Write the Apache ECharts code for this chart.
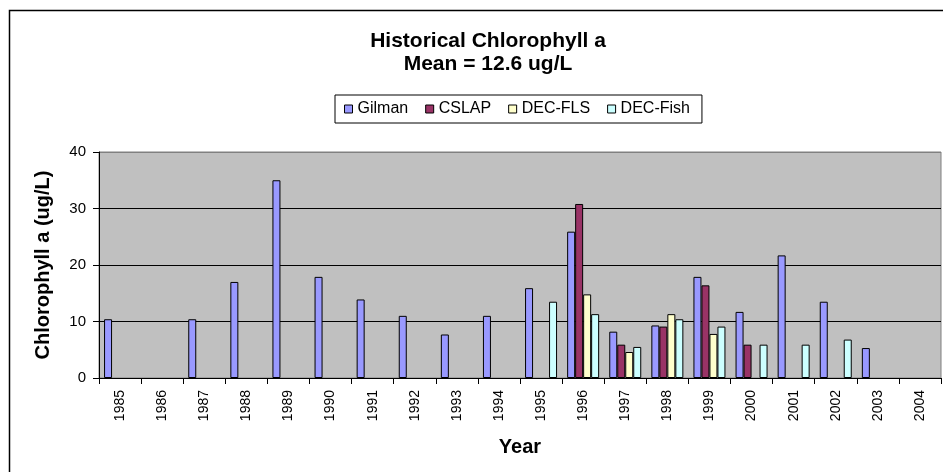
<!DOCTYPE html>
<html>
<head>
<meta charset="utf-8">
<script src="https://cdn.jsdelivr.net/npm/echarts@6/dist/echarts.min.js"></script>
<style>
  html, body { margin: 0; padding: 0; background: #fff; }
  #chart { width: 943px; height: 472px; }
</style>
</head>
<body>
<div id="chart"></div>
<script>
// years on the x axis
var years = ['1985', '1986', '1987', '1988', '1989', '1990', '1991', '1992', '1993', '1994',
  '1995', '1996', '1997', '1998', '1999', '2000', '2001', '2002', '2003', '2004'];

// chlorophyll a, ug/L (null = no sample that year)
var gilman = [10.4, null, 10.4, 17.0, 35.0, 17.9, 13.9, 11.0, 7.7, 11.0,
  15.9, 25.9, 8.2, 9.3, 17.9, 11.7, 21.7, 13.5, 5.3, null];
var cslap = [null, null, null, null, null, null, null, null, null, null,
  null, 30.8, 5.9, 9.1, 16.4, 5.9, null, null, null, null];
var decFls = [null, null, null, null, null, null, null, null, null, null,
  null, 14.8, 4.6, 11.3, 7.8, null, null, null, null, null];
var decFish = [null, null, null, null, null, null, null, null, null, null,
  13.5, 11.3, 5.5, 10.4, 9.1, 5.9, 5.9, 6.8, null, null];

var yTicks = [0, 10, 20, 30, 40];

var FONT = '"Liberation Sans", Arial, sans-serif';

function barSeries(name, data, color) {
  return {
    name: name,
    type: 'bar',
    data: data,
    barGap: '0%',
    barCategoryGap: '24%',
    itemStyle: { color: color, borderColor: '#000', borderWidth: 1 },
    emphasis: { disabled: true },
    animation: false
  };
}

var chart = echarts.init(document.getElementById('chart'));
chart.setOption({
  animation: false,
  title: {
    text: 'Historical Chlorophyll a\nMean = 12.6 ug/L',
    left: 483,
    textAlign: 'center',
    top: 25,
    textStyle: { fontFamily: FONT, fontSize: 21, fontWeight: 'bold', color: '#000', lineHeight: 23 }
  },
  legend: {
    left: 335,
    top: 95,
    padding: [6, 12, 6, 9],
    itemGap: 17,
    itemWidth: 8,
    itemHeight: 8,
    icon: 'rect',
    borderColor: '#000',
    borderWidth: 1,
    itemStyle: { borderColor: '#000', borderWidth: 1 },
    textStyle: { fontFamily: FONT, fontSize: 16, color: '#000' },
    data: ['Gilman', 'CSLAP', 'DEC-FLS', 'DEC-Fish']
  },
  graphic: [{
    type: 'rect',
    z: -10,
    shape: { x: 9.5, y: 10.5, width: 1000, height: 600 },
    style: { fill: null, stroke: '#000', lineWidth: 1.5 }
  }],
  grid: {
    left: 99,
    right: 2,
    top: 152,
    bottom: 94,
    show: true,
    backgroundColor: '#C0C0C0',
    borderColor: '#808080',
    borderWidth: 1
  },
  xAxis: {
    type: 'category',
    data: years,
    name: 'Year',
    nameLocation: 'middle',
    nameGap: 59,
    nameTextStyle: { fontFamily: FONT, fontSize: 20, fontWeight: 'bold', color: '#000' },
    axisLine: { lineStyle: { color: '#000', width: 1 } },
    axisTick: { show: true, length: 6, alignWithLabel: false, lineStyle: { color: '#000' } },
    axisLabel: { rotate: 90, margin: 12, fontFamily: FONT, fontSize: 14, color: '#000', interval: 0 }
  },
  yAxis: {
    type: 'value',
    min: yTicks[0],
    max: yTicks[yTicks.length - 1],
    interval: yTicks[1] - yTicks[0],
    name: 'Chlorophyll a (ug/L)',
    nameLocation: 'middle',
    nameGap: 46,
    nameTextStyle: { fontFamily: FONT, fontSize: 20, fontWeight: 'bold', color: '#000' },
    axisLine: { show: true, lineStyle: { color: '#000', width: 1 } },
    axisTick: { show: true, length: 6, lineStyle: { color: '#000' } },
    axisLabel: { margin: 13, fontFamily: FONT, fontSize: 15, color: '#000' },
    splitLine: { show: true, lineStyle: { color: ['#000', '#000', '#000', '#000', '#808080'], width: 1 } }
  },
  series: [
    barSeries('Gilman', gilman, '#9999FF'),
    barSeries('CSLAP', cslap, '#993366'),
    barSeries('DEC-FLS', decFls, '#FFFFCC'),
    barSeries('DEC-Fish', decFish, '#CCFFFF')
  ]
});
</script>
</body>
</html>
